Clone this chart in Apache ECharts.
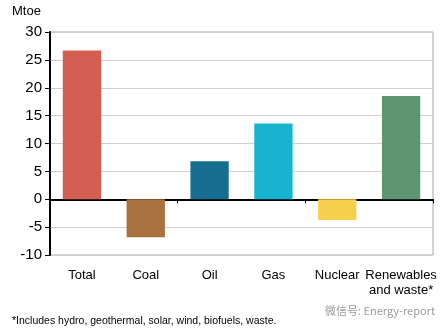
<!DOCTYPE html>
<html><head><meta charset="utf-8">
<script src="https://cdn.jsdelivr.net/npm/echarts@6/dist/echarts.min.js"></script>
<style>html,body{margin:0;padding:0;background:#fff}#c{width:448px;height:333px}</style>
</head><body><div id="c"></div>
<script>
const categories = ['Total', 'Coal', 'Oil', 'Gas', 'Nuclear', 'Renewables\nand waste*'];
const values = [26.7, -6.8, 6.8, 13.6, -3.7, 18.5];
const colors = ['#D45F50', '#A8713E', '#166F91', '#16B4CF', '#F5D14D', '#5E9573'];
const yTicks = [-10, -5, 0, 5, 10, 15, 20, 25, 30];
const unitLabel = 'Mtoe';
const footnote = '*Includes hydro, geothermal, solar, wind, biofuels, waste.';
const watermark = '微信号: Energy-report';

const chart = echarts.init(document.getElementById('c'));
const font = 'Liberation Sans, Arial, sans-serif';
chart.setOption({
  animation: false,
  grid: {left: 50, right: 15, top: 32, bottom: 78, show: true, borderColor: '#a6a6a6', borderWidth: 1},
  xAxis: [{
    type: 'category', data: categories, position: 'bottom',
    axisLine: {onZero: true, lineStyle: {color: '#000', width: 2}},
    axisTick: {show: true, alignWithLabel: false, length: 4, lineStyle: {color: '#000', width: 1}},
    axisLabel: {show: false}
  }, {
    type: 'category', data: categories, position: 'bottom',
    axisLine: {show: false, onZero: false}, axisTick: {show: false},
    axisLabel: {color: '#000', fontSize: 13, fontFamily: font, margin: 13, interval: 0, lineHeight: 15}
  }],
  yAxis: {
    type: 'value', min: yTicks[0], max: yTicks[yTicks.length - 1], interval: 5,
    axisLine: {show: true, onZero: false, lineStyle: {color: '#000', width: 2}},
    axisTick: {show: true, length: 5, lineStyle: {color: '#000'}},
    axisLabel: {color: '#000', fontSize: 15, fontFamily: font, margin: 8},
    splitLine: {lineStyle: {color: '#d0d0d0', width: 1}}
  },
  series: [{
    type: 'bar', xAxisIndex: 0, barWidth: '60%',
    data: values.map((v, i) => ({value: v, itemStyle: {color: colors[i]}}))
  }],
  graphic: [
    {type: 'text', left: 12, top: 5, style: {text: unitLabel, fontSize: 13, fontFamily: font, fill: '#000'}},
    {type: 'text', left: 12, top: 316, style: {text: footnote, fontSize: 10.5, fontFamily: font, fill: '#000'}},
    {type: 'text', left: 325, top: 305, style: {text: watermark, fontSize: 11, fontFamily: 'Noto Sans CJK SC, sans-serif', fill: '#9a9a9a'}}
  ]
});
</script></body></html>
